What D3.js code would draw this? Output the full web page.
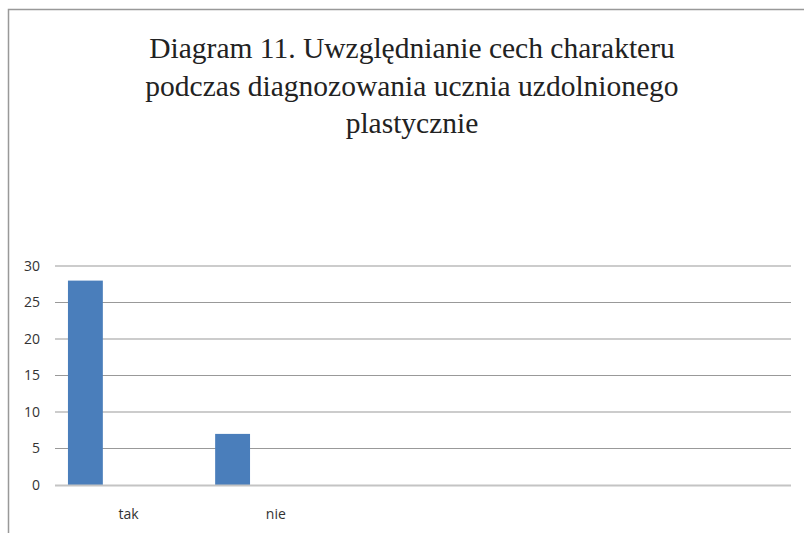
<!DOCTYPE html>
<html>
<head>
<meta charset="utf-8">
<script src="https://cdn.jsdelivr.net/npm/d3@7"></script>
<style>
  body { margin: 0; background: #fff; }
</style>
</head>
<body>
<div id="chart"></div>
<script>
let titleLines = ['Diagram 11. Uwzględnianie cech charakteru', 'podczas diagnozowania ucznia uzdolnionego', 'plastycznie']

let categories = ['tak', 'nie', 'c3', 'c4', 'c5']
let categoryLabels = ['tak', 'nie', '', '', '']
let values = [28, 7]

let yTicks = [0, 5, 10, 15, 20, 25, 30]

let width = 804
let height = 533

let plotLeft = 55
let plotRight = 791
let plotTop = 266
let plotBottom = 485

const svg = d3.select('#chart')
	.append('svg')
	.attr('width', width)
	.attr('height', height)

// chart frame (only top and left edges are in view)
svg.append('path')
	.attr('d', `M 8.5 ${height} L 8.5 9.5 L ${width} 9.5`)
	.attr('fill', 'none')
	.attr('stroke', '#999')
	.attr('stroke-width', 1.5)

svg.selectAll('.titleLine')
	.data(titleLines)
	.enter()
	.append('text')
	.attr('class', 'titleLine')
	.attr('x', 412)
	.attr('y', (d, i) => 58 + i * 37.5)
	.attr('text-anchor', 'middle')
	.attr('font-family', '"Liberation Serif", "Times New Roman", serif')
	.attr('font-size', 29.5)
	.attr('fill', '#222')
	.text(d => d)

let xScale = d3.scaleBand()
	.domain(categories)
	.range([plotLeft, plotRight])

let yScale = d3.scaleLinear()
	.domain([0, 30])
	.range([plotBottom, plotTop])

svg.selectAll('.grid')
	.data(yTicks.filter(d => d > 0))
	.enter()
	.append('line')
	.attr('class', 'grid')
	.attr('x1', plotLeft)
	.attr('x2', plotRight)
	.attr('y1', d => yScale(d))
	.attr('y2', d => yScale(d))
	.attr('stroke', '#999')
	.attr('stroke-width', 1)

let yAxis = g => g.attr('transform', `translate(${plotLeft},0)`)
	.call(d3.axisLeft(yScale).tickValues(yTicks).tickSize(0).tickPadding(15))
	.call(g => g.select('.domain').remove())

let yG = svg.append('g').call(yAxis)
yG.selectAll('text')
	.attr('fill', '#333')
	.attr('font-size', 14)
	.attr('font-family', '"Open Sans", "Liberation Sans", sans-serif')

let bw = xScale.bandwidth()

svg.selectAll('.bar')
	.data(values)
	.enter()
	.append('rect')
	.attr('class', 'bar')
	.attr('x', (d, i) => xScale(categories[i]) + bw * 0.088)
	.attr('width', bw * 0.237)
	.attr('y', d => yScale(d))
	.attr('height', d => yScale(0) - yScale(d))
	.attr('fill', '#4a7ebb')

// baseline
svg.append('line')
	.attr('x1', plotLeft)
	.attr('x2', plotRight)
	.attr('y1', yScale(0) + 0.5)
	.attr('y2', yScale(0) + 0.5)
	.attr('stroke', '#c4c4c4')
	.attr('stroke-width', 2)

let xAxis = g => g.attr('transform', `translate(0,${plotBottom})`)
	.call(d3.axisBottom(xScale).tickSize(0).tickPadding(24).tickFormat((d, i) => categoryLabels[i]))
	.call(g => g.select('.domain').remove())

let xG = svg.append('g').call(xAxis)
xG.selectAll('text')
	.attr('fill', '#333')
	.attr('font-size', 14)
	.attr('font-family', '"Open Sans", "Liberation Sans", sans-serif')
</script>
</body>
</html>
